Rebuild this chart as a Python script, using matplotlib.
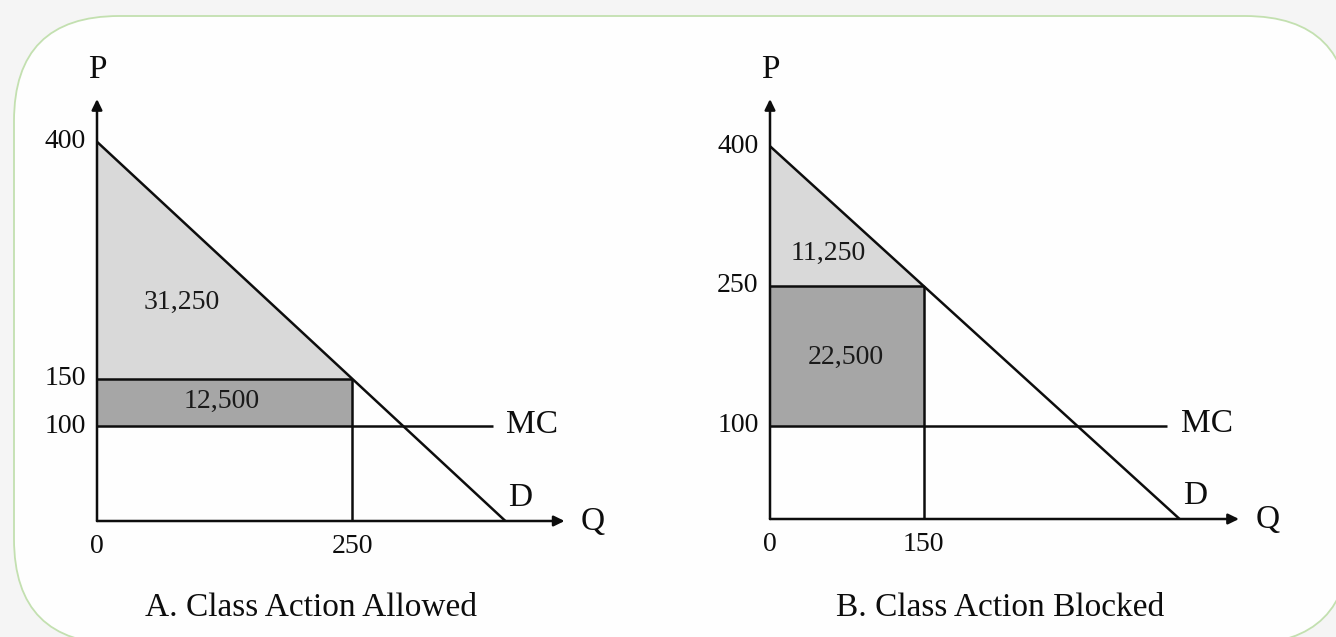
import matplotlib
matplotlib.use("Agg")
import matplotlib.pyplot as plt
from matplotlib.patches import FancyBboxPatch, Polygon, Rectangle, FancyArrowPatch

# ---------------- data ----------------
panel_titles = ["A. Class Action Allowed", "B. Class Action Blocked"]
demand_p_intercept = 400          # P where demand meets the price axis
demand_q_intercept = 400          # Q where demand meets the quantity axis
marginal_cost = 100
quantities = [250, 150]           # quantity sold in each panel
prices = [150, 250]               # price charged in each panel
surplus_labels = ["31,250", "11,250"]
profit_labels = ["12,500", "22,500"]
price_ticks = [[400, 150, 100], [400, 250, 100]]
quantity_ticks = [[0, 250], [0, 150]]

# ---------------- style / layout ----------------
W, H = 1336, 637
FONT = "Liberation Serif"
LIGHT = "#d9d9d9"
DARK = "#a6a6a6"
LC = "#0d0d0d"
LW = 1.8

fig = plt.figure(figsize=(W / 100, H / 100), dpi=100)
fig.patch.set_facecolor("#f5f5f5")

# background rounded card
bg = fig.add_axes([0, 0, 1, 1], zorder=0)
bg.set_xlim(0, W)
bg.set_ylim(H, 0)
bg.axis("off")
bg.add_patch(FancyBboxPatch((14, 16), 1336, 628,
                            boxstyle="round,pad=0,rounding_size=105",
                            facecolor="#fefefe", edgecolor="#c3e0b0", lw=1.3))

# axes rectangles in pixel terms: origin px, px per unit (x, y)
layouts = [
    dict(ox=97, oy=521, sx=1.021, sy=0.948,
         surplus_xy=(83, 231), profit_xy=(122, 126), title_x=311),
    dict(ox=770, oy=519, sx=1.024, sy=0.932,
         surplus_xy=(57, 285), profit_xy=(74, 173), title_x=1000),
]

for i, L in enumerate(layouts):
    left = L["ox"] / W
    width = 400 * L["sx"] / W
    bottom = (H - L["oy"]) / H
    height = 400 * L["sy"] / H
    ax = fig.add_axes([left, bottom, width, height], zorder=1)
    ax.set_xlim(0, 400)
    ax.set_ylim(0, 400)
    ax.axis("off")
    ax.patch.set_alpha(0)

    q, p = quantities[i], prices[i]
    # consumer surplus triangle
    ax.add_patch(Polygon([(0, demand_p_intercept), (0, p), (q, p)],
                         closed=True, facecolor=LIGHT, edgecolor="none"))
    # profit rectangle
    ax.add_patch(Rectangle((0, marginal_cost), q, p - marginal_cost,
                           facecolor=DARK, edgecolor="none"))

    kw = dict(color=LC, lw=LW, clip_on=False, solid_capstyle="butt")
    # demand
    ax.plot([0, demand_q_intercept], [demand_p_intercept, 0], **kw)
    # price line and quantity line
    ax.plot([0, q], [p, p], **kw)
    ax.plot([q, q], [0, p], **kw)
    # MC line
    ax.plot([0, 388], [marginal_cost, marginal_cost], **kw)

    # axes arrows
    y_tip = (L["oy"] - 99) / L["sy"]
    x_tip = 458
    for (x0, y0, x1, y1) in [(0, 0, 0, y_tip), (0, 0, x_tip, 0)]:
        arr = FancyArrowPatch((x0, y0), (x1, y1),
                              arrowstyle="-|>,head_length=0.45,head_width=0.22",
                              mutation_scale=14, color=LC, lw=LW,
                              shrinkA=0, shrinkB=0, clip_on=False)
        ax.add_patch(arr)

    tfs = 20
    # price ticks
    for v in price_ticks[i]:
        ax.text(-11, v, str(v), ha="right", va="center", fontsize=tfs,
                family=FONT, color=LC, clip_on=False)
    # quantity ticks
    for v in quantity_ticks[i]:
        ax.text(v, -27, str(v), ha="center", va="center", fontsize=tfs,
                family=FONT, color=LC, clip_on=False)

    lfs = 24
    ax.text(0, (L["oy"] - 70) / L["sy"], "P", ha="center", va="center",
            fontsize=lfs, family=FONT, color=LC, clip_on=False)
    ax.text(474, -1, "Q", ha="left", va="center", fontsize=lfs,
            family=FONT, color=LC, clip_on=False)
    ax.text(401, 102, "MC", ha="left", va="center", fontsize=lfs,
            family=FONT, color=LC, clip_on=False)
    ax.text(403, 25, "D", ha="left", va="center", fontsize=lfs,
            family=FONT, color=LC, clip_on=False)

    ax.text(*L["surplus_xy"], surplus_labels[i], ha="center", va="center",
            fontsize=tfs, family=FONT, color="#1a1a1a")
    ax.text(*L["profit_xy"], profit_labels[i], ha="center", va="center",
            fontsize=tfs, family=FONT, color="#1a1a1a")

    fig.text(L["title_x"] / W, 1 - 608 / H, panel_titles[i], ha="center",
             va="center", fontsize=24, family=FONT, color=LC)

fig.savefig("out.png", dpi=100, facecolor=fig.get_facecolor())
